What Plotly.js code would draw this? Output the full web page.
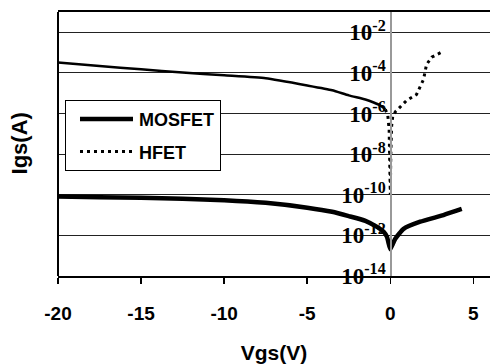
<!DOCTYPE html>
<html>
<head>
<meta charset="utf-8">
<script src="https://cdn.plot.ly/plotly-3.0.1.min.js"></script>
<style>html,body{margin:0;padding:0;background:#fff;}#chart{width:490px;height:364px;}</style>
</head>
<body>
<div id="chart"></div>
<script>
// MOSFET gate current
const mosV = [-20, -17.5, -15, -12.5, -10, -7.5, -5, -3.5, -2.5, -1.5, -0.8, -0.4, -0.2, 0, 0.15, 0.3, 0.8, 1.8, 3.2, 4.3];
const mosI = [8.3e-11, 7.6e-11, 7.1e-11, 6.3e-11, 5.4e-11, 4.0e-11, 2.3e-11, 1.45e-11, 8.9e-12, 5.2e-12, 2.6e-12, 1.5e-12, 8.5e-13, 2.1e-13, 3.8e-13, 6.8e-13, 2.1e-12, 4.7e-12, 1.0e-11, 2.0e-11];

// HFET gate current, reverse branch (solid in the picture)
const hfetNegV = [-20, -17.5, -15, -12.5, -10, -7.5, -5, -3.5, -2.5, -1.5, -1.0, -0.6, -0.3];
const hfetNegI = [3.3e-4, 2.2e-4, 1.5e-4, 1.05e-4, 7.6e-5, 5.4e-5, 2.4e-5, 1.4e-5, 7.8e-6, 4.9e-6, 3.5e-6, 2.5e-6, 1.6e-6];

// HFET gate current near zero and forward branch (dotted)
const hfetPosV = [-0.3, -0.15, -0.07, -0.02, 0, 0.03, 0.08, 0.15, 0.32, 0.98, 1.58, 2.0, 2.18, 2.49, 3.03];
const hfetPosI = [1.6e-6, 7.9e-7, 1.6e-7, 3.2e-9, 1e-10, 1e-8, 2.5e-7, 7.9e-7, 1.26e-6, 4.4e-6, 8.7e-6, 4.8e-5, 2.6e-4, 5.9e-4, 1.0e-3];

const xTickVals = [-20, -15, -10, -5, 0, 5];
const xTickText = ['-20', '-15', '-10', '-5', '0', '5'];
const yTickVals = [1e-14, 1e-12, 1e-10, 1e-8, 1e-6, 1e-4, 1e-2];
const yTickText = ['10<sup>-14</sup>', '10<sup>-12</sup>', '10<sup>-10</sup>', '10<sup>-8</sup>', '10<sup>-6</sup>', '10<sup>-4</sup>', '10<sup>-2</sup>'];

const traces = [
  {x: mosV, y: mosI, type: 'scatter', mode: 'lines', name: 'MOSFET',
   line: {color: '#000', width: 4.5, shape: 'spline', smoothing: 0.5}, legendgroup: 'a'},
  {x: hfetNegV, y: hfetNegI, type: 'scatter', mode: 'lines', name: 'HFET', showlegend: false,
   line: {color: '#000', width: 2.5, shape: 'spline', smoothing: 0.5}, legendgroup: 'b'},
  {x: hfetPosV, y: hfetPosI, type: 'scatter', mode: 'lines', name: 'HFET',
   line: {color: '#000', width: 3, dash: '3px,4px'}, legendgroup: 'b'}
];

const sansBold = {family: 'Liberation Sans', color: '#000', weight: 'bold'};

const layout = {
  width: 490, height: 364,
  margin: {l: 58, r: 0, t: 12, b: 88},
  paper_bgcolor: '#fff', plot_bgcolor: '#fff',
  showlegend: true,
  legend: {x: 0.0162, y: 0.667, xanchor: 'left', yanchor: 'top',
    bgcolor: '#fff', bordercolor: '#000', borderwidth: 1,
    font: Object.assign({}, sansBold, {size: 18}),
    itemwidth: 63,
    traceorder: 'grouped', tracegroupgap: 6, entrywidth: 176},
  xaxis: {
    range: [-20, 6], tickvals: xTickVals, ticktext: xTickText,
    showgrid: false, zeroline: false,
    showline: true, linecolor: '#000', linewidth: 2, mirror: true,
    ticks: 'outside', ticklen: 6, tickwidth: 1.5, tickcolor: '#000',
    ticklabelstandoff: 13,
    tickfont: Object.assign({}, sansBold, {size: 19}),
    title: {text: 'Vgs(V)', standoff: 27, font: Object.assign({}, sansBold, {size: 21})},
    automargin: false
  },
  yaxis: {
    type: 'log', range: [-14, -1],
    anchor: 'free', position: 20 / 26,
    tickvals: yTickVals, ticktext: yTickText,
    showgrid: true, gridcolor: '#222', gridwidth: 1,
    zeroline: false,
    showline: true, linecolor: '#999', linewidth: 1.5,
    ticks: '',
    tickfont: {family: 'Liberation Serif, serif', size: 23, color: '#000', weight: 700},
    automargin: false
  },
  shapes: [
    {type: 'line', xref: 'paper', yref: 'paper', x0: 0, x1: 0, y0: 0, y1: 1,
     line: {color: '#000', width: 2}}
  ],
  annotations: [
    {text: 'Igs(A)', xref: 'paper', yref: 'paper', x: -0.0903, y: 0.502,
     xanchor: 'center', yanchor: 'middle', textangle: -90, showarrow: false,
     font: Object.assign({}, sansBold, {size: 22})}
  ]
};

Plotly.newPlot('chart', traces, layout, {displayModeBar: false, staticPlot: true}).then(function () {
  document.querySelectorAll('.legend .legendlines path').forEach(function (p) {
    p.setAttribute('d', 'M14,0h53');
  });
});
</script>
</body>
</html>
